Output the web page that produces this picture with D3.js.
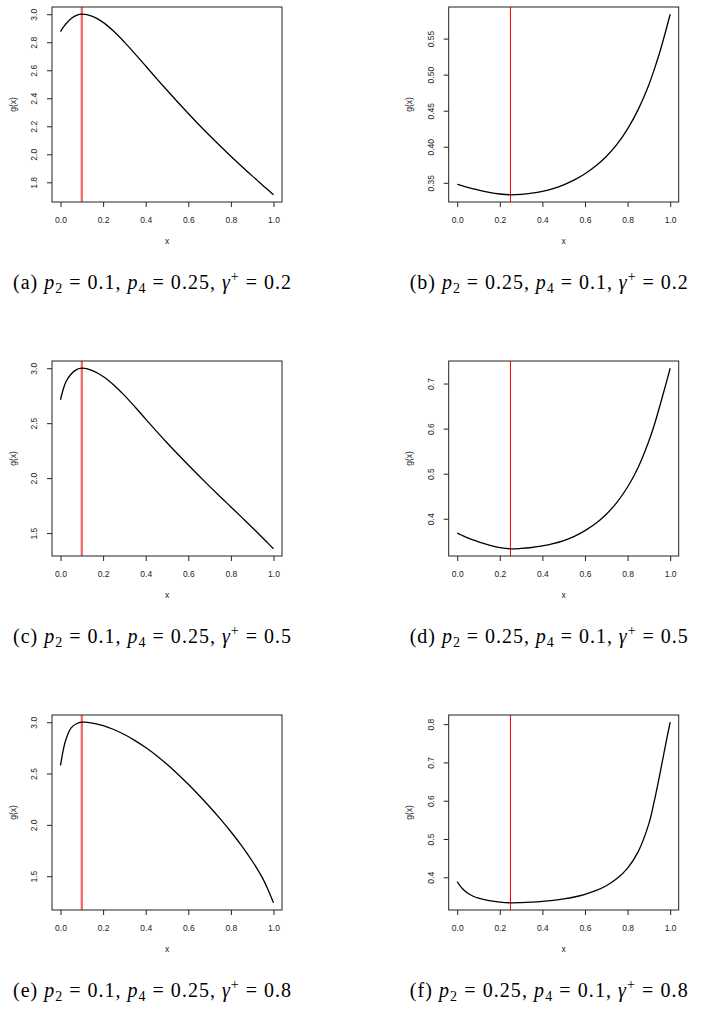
<!DOCTYPE html>
<html>
<head>
<meta charset="utf-8">
<script src="https://cdnjs.cloudflare.com/ajax/libs/d3/7.8.5/d3.min.js"></script>
<style>
  body { margin: 0; background: #fff; }
  svg { display: block; }
</style>
</head>
<body>
<script>
// sample points on x, shared by all six panels
var xGrid = [0, 0.01, 0.025, 0.05, 0.075, 0.1, 0.15, 0.2, 0.25, 0.3, 0.35, 0.4, 0.45,
             0.5, 0.55, 0.6, 0.65, 0.7, 0.75, 0.8, 0.85, 0.9, 0.925, 0.95, 0.975, 1.0];

// g(x)
var gA = [2.876, 2.900, 2.930, 2.969, 2.992, 3.000, 2.985, 2.942, 2.878, 2.801, 2.717, 2.630, 2.543,
          2.457, 2.373, 2.291, 2.211, 2.134, 2.059, 1.986, 1.915, 1.846, 1.812, 1.778, 1.745, 1.711];
var gB = [0.3480, 0.3471, 0.3458, 0.3436, 0.3417, 0.3398, 0.3367, 0.3345, 0.3334, 0.3340, 0.3356, 0.3382, 0.3420,
          0.3472, 0.3540, 0.3626, 0.3733, 0.3865, 0.4032, 0.4247, 0.4518, 0.4860, 0.5070, 0.5300, 0.5560, 0.5838];
var gC = [2.713, 2.790, 2.875, 2.948, 2.987, 3.000, 2.978, 2.925, 2.848, 2.753, 2.647, 2.537, 2.428,
          2.322, 2.219, 2.119, 2.021, 1.925, 1.831, 1.738, 1.645, 1.551, 1.503, 1.455, 1.406, 1.357];
var gD = [0.3680, 0.3658, 0.3627, 0.3575, 0.3530, 0.3487, 0.3415, 0.3362, 0.3334, 0.3342, 0.3362, 0.3396, 0.3446,
          0.3516, 0.3611, 0.3738, 0.3895, 0.4100, 0.4365, 0.4705, 0.5145, 0.5725, 0.6075, 0.6480, 0.6905, 0.7340];
var gE = [2.579, 2.700, 2.830, 2.945, 2.985, 3.000, 2.992, 2.967, 2.929, 2.880, 2.821, 2.753, 2.676,
          2.590, 2.496, 2.395, 2.288, 2.176, 2.058, 1.933, 1.798, 1.648, 1.566, 1.476, 1.365, 1.241];
var gF = [0.3890, 0.3800, 0.3700, 0.3583, 0.3505, 0.3455, 0.3392, 0.3352, 0.3334, 0.3338, 0.3350, 0.3370, 0.3398,
          0.3435, 0.3485, 0.3555, 0.3650, 0.3780, 0.3965, 0.4240, 0.4670, 0.5400, 0.5980, 0.6650, 0.7370, 0.8050];

var panelLetters = ["a", "b", "c", "d", "e", "f"];
var p2Vals = ["0.1", "0.25", "0.1", "0.25", "0.1", "0.25"];
var p4Vals = ["0.25", "0.1", "0.25", "0.1", "0.25", "0.1"];
var gammaVals = ["0.2", "0.2", "0.5", "0.5", "0.8", "0.8"];
var optimumX = [0.1, 0.25, 0.1, 0.25, 0.1, 0.25];

var xTicks = [0, 0.2, 0.4, 0.6, 0.8, 1.0];
var yTicksA = [1.8, 2.0, 2.2, 2.4, 2.6, 2.8, 3.0];
var yTicksB = [0.35, 0.40, 0.45, 0.50, 0.55];
var yTicksC = [1.5, 2.0, 2.5, 3.0];
var yTicksD = [0.4, 0.5, 0.6, 0.7];
var yTicksE = [1.5, 2.0, 2.5, 3.0];
var yTicksF = [0.4, 0.5, 0.6, 0.7, 0.8];
var yTickFormats = [".1f", ".2f", ".1f", ".1f", ".1f", ".1f"];

(function() {
    var width = 703, height = 1034;
    var boxW = 230, boxH = 195;
    var colLeft = [52, 448.7], rowTop = [7, 361, 715];
    var sansFont = "'Liberation Sans', Arial, Helvetica, sans-serif";
    var serifFont = "'Liberation Serif', 'Times New Roman', serif";
    var tickSize = 8.5;
    // the left column's red rule sits between pixels in the original, so it looks wider and paler
    var redStroke = [{ color: "#f26a6a", width: 2.3 }, { color: "#ff0000", width: 1 }];

    var series = [gA, gB, gC, gD, gE, gF];
    var yTicks = [yTicksA, yTicksB, yTicksC, yTicksD, yTicksE, yTicksF];

    var svg = d3.select("body")
        .append("svg")
        .attr("width", width)
        .attr("height", height);

    series.forEach(function(values, i) {
        var col = i % 2, row = Math.floor(i / 2);
        var g = svg.append("g")
            .attr("transform", `translate(${colLeft[col]},${rowTop[row]})`);

        var data = xGrid.map((x, k) => ({ x: x, y: values[k] }));

        // R style: pad the data range by 4% on each side
        var xScale = d3.scaleLinear().domain([-0.04, 1.04]).range([0, boxW]);
        var ext = d3.extent(values), pad = (ext[1] - ext[0]) * 0.04;
        var yScale = d3.scaleLinear().domain([ext[0] - pad, ext[1] + pad]).range([boxH, 0]);

        var xAxis = d3.axisBottom(xScale)
            .tickValues(xTicks)
            .tickFormat(d3.format(".1f"))
            .tickSize(5)
            .tickSizeOuter(0);
        var yAxis = d3.axisLeft(yScale)
            .tickValues(yTicks[i])
            .tickFormat(d3.format(yTickFormats[i]))
            .tickSize(5)
            .tickSizeOuter(0);

        var gx = g.append("g")
            .attr("transform", `translate(0,${boxH})`)
            .call(xAxis);
        var gy = g.append("g").call(yAxis);

        [gx, gy].forEach(function(ax) {
            ax.select(".domain").remove();
            ax.selectAll("line").attr("stroke", "#222");
            ax.selectAll("text")
                .attr("fill", "#222")
                .attr("font-family", sansFont)
                .attr("font-size", tickSize);
        });
        gx.selectAll("text").attr("y", 21).attr("dy", null);
        gy.selectAll("text")
            .attr("x", 0)
            .attr("dy", null)
            .attr("text-anchor", "middle")
            .attr("transform", "translate(-14.7,0) rotate(-90)");

        // optimum marker
        g.append("line")
            .attr("x1", xScale(optimumX[i]))
            .attr("x2", xScale(optimumX[i]))
            .attr("y1", 0)
            .attr("y2", boxH)
            .attr("stroke", redStroke[col].color)
            .attr("stroke-width", redStroke[col].width);

        var line = d3.line()
            .x(d => xScale(d.x))
            .y(d => yScale(d.y))
            .curve(d3.curveCatmullRom.alpha(0.5));

        g.append("path")
            .datum(data)
            .attr("fill", "none")
            .attr("stroke", "#000")
            .attr("stroke-width", 1.3)
            .attr("d", line);

        g.append("rect")
            .attr("width", boxW)
            .attr("height", boxH)
            .attr("fill", "none")
            .attr("stroke", "#222")
            .attr("stroke-width", 1);

        g.append("text")
            .attr("x", boxW / 2)
            .attr("y", boxH + 42)
            .attr("text-anchor", "middle")
            .attr("font-family", sansFont)
            .attr("font-size", tickSize)
            .attr("fill", "#222")
            .text("x");

        g.append("text")
            .attr("text-anchor", "middle")
            .attr("transform", `translate(-36.5,${boxH / 2}) rotate(-90)`)
            .attr("font-family", sansFont)
            .attr("font-size", tickSize)
            .attr("fill", "#222")
            .text("g(x)");

        // sub-figure caption
        var cap = g.append("text")
            .attr("x", -39)
            .attr("y", 281.5)
            .attr("font-family", serifFont)
            .attr("font-size", 20)
            .attr("fill", "#000");
        cap.append("tspan").text("(" + panelLetters[i] + ") ");
        cap.append("tspan").attr("font-style", "italic").text("p");
        cap.append("tspan").attr("font-size", 14).attr("dy", 4).text("2");
        cap.append("tspan").attr("dy", -4).text(" = " + p2Vals[i] + ", ");
        cap.append("tspan").attr("font-style", "italic").text("p");
        cap.append("tspan").attr("font-size", 14).attr("dy", 4).text("4");
        cap.append("tspan").attr("dy", -4).text(" = " + p4Vals[i] + ", ");
        cap.append("tspan").attr("font-style", "italic").text("γ");
        cap.append("tspan").attr("font-size", 14).attr("dy", -8).text("+");
        cap.append("tspan").attr("dy", 8).text(" = " + gammaVals[i]);
        cap.attr("textLength", 278).attr("lengthAdjust", "spacing");
    });
})();
</script>
</body>
</html>
